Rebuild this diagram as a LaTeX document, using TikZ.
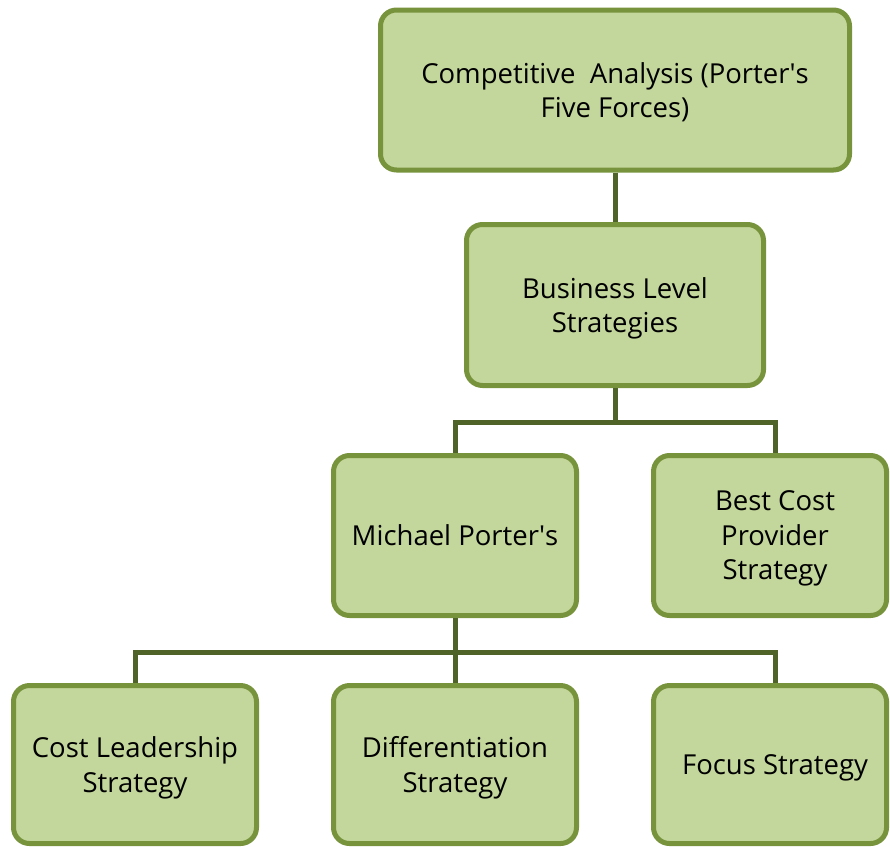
\documentclass[tikz,border=0pt]{standalone}
\usepackage{fontspec}
\setmainfont{Open Sans}
\usetikzlibrary{calc}

\definecolor{boxfill}{HTML}{C3D69B}
\definecolor{boxedge}{HTML}{77933C}
\definecolor{linkline}{HTML}{4F6228}

% push a centred line a little to the right
\newcommand{\nudge}{\hspace*{10pt}}

\begin{document}
\begin{tikzpicture}[
  x=1pt, y=-1pt,
  font=\fontsize{27.5}{34.5}\selectfont,
  block/.style={draw=boxedge, fill=boxfill, line width=5pt, rounded corners=16pt,
    align=center, inner sep=0pt, text depth=0pt,
    minimum width=243pt, minimum height=160pt},
  link/.style={draw=linkline, line width=5pt}
]

\def\drop{34}

\useasboundingbox (0,0) rectangle (890,846);

% Boxes of the hierarchy.
\node[block, minimum width=469pt] (cfa) at (615,90)
  {Competitive\ \ Analysis (Porter\textquotesingle s\\Five Forces)};
\node[block, minimum width=297pt, minimum height=161pt] (bls) at (615,305)
  {Business Level\\Strategies};

\node[block] (mps) at (455,535.5) {Michael Porter\textquotesingle s};
\node[block, minimum width=233pt] (bcp) at (770,535.5)
  {\nudge Best Cost\\\nudge Provider\\\nudge Strategy};

\node[block, minimum height=158pt] (cls) at (135,764.5) {Cost Leadership\\Strategy};
\node[block, minimum height=158pt] (dif) at (455,764.5) {Differentiation\\Strategy};
\node[block, minimum width=233pt, minimum height=158pt] (fcs) at (770,764.5)
  {\nudge Focus Strategy};

% Connectors.
\draw[link] (cfa.south) -- (bls.north);

\draw[link] (bls.south) -- ++(0,\drop) -| (mps.north);
\draw[link] (bls.south) -- ++(0,\drop) -| ($(bcp.north)+(5,0)$);

\draw[link] (mps.south) -- ++(0,\drop) -| (cls.north);
\draw[link] (mps.south) -- (dif.north);
\draw[link] (mps.south) -- ++(0,\drop) -| ($(fcs.north)+(5,0)$);

\end{tikzpicture}
\end{document}
